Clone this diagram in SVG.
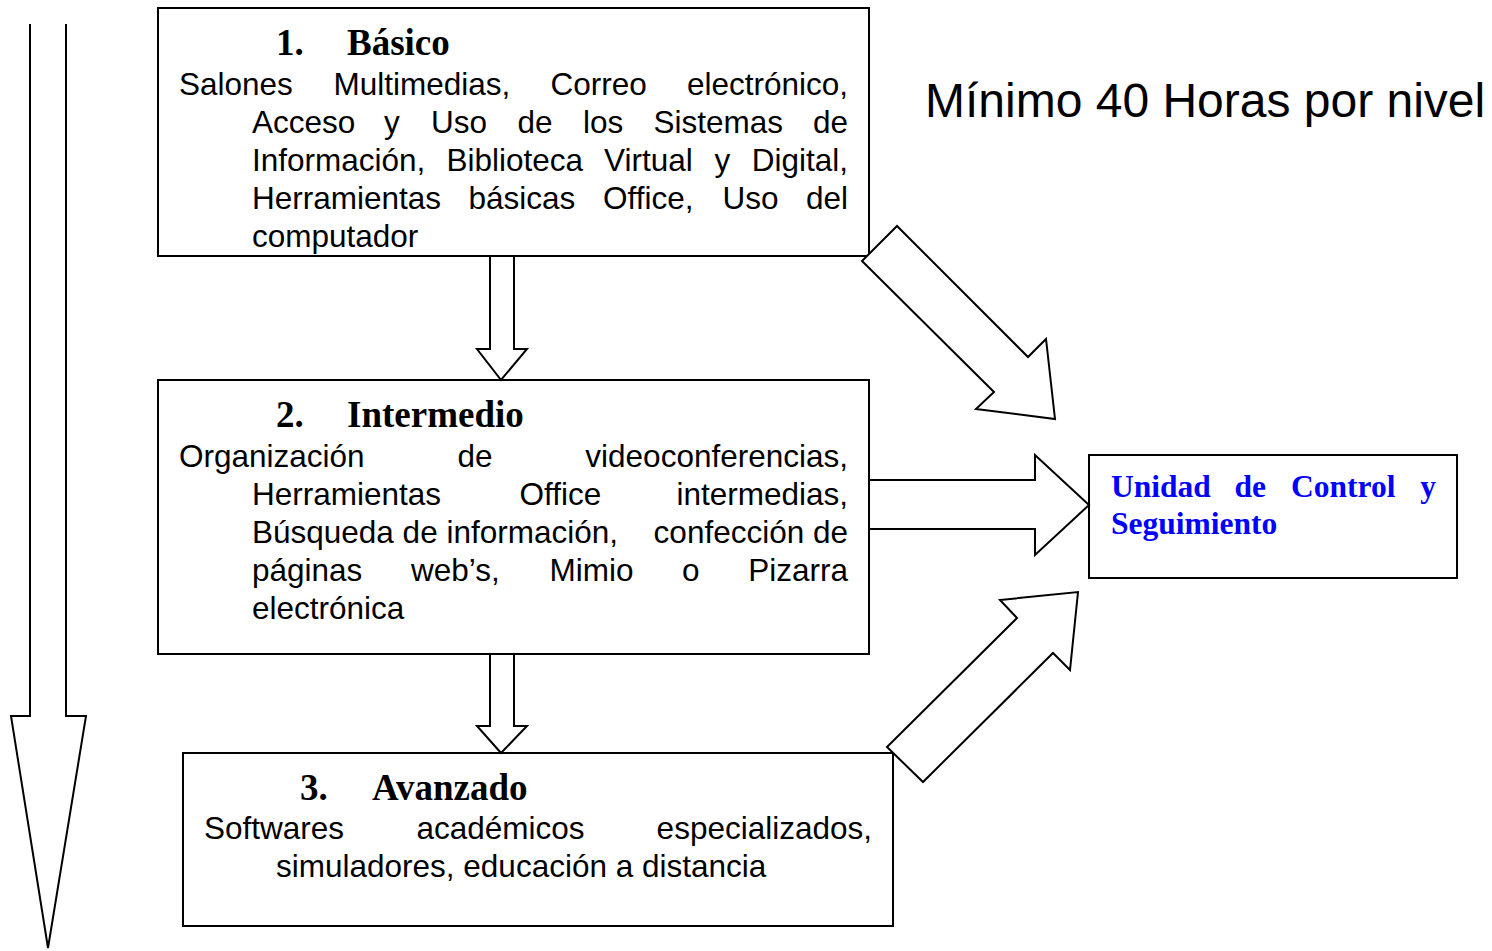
<svg xmlns="http://www.w3.org/2000/svg" width="1492" height="951" viewBox="0 0 1492 951">
<style>
.box{fill:#fff;stroke:#000;stroke-width:2}
.arr{fill:#fff;stroke:#000;stroke-width:2;stroke-linejoin:miter}
.t{font-family:"Liberation Serif","Times New Roman",serif;font-weight:bold;font-size:37px;fill:#000}
.b{font-family:"Liberation Sans",Arial,sans-serif;font-size:31.5px;fill:#000}
.u{font-family:"Liberation Serif","Times New Roman",serif;font-weight:bold;font-size:31.5px;fill:#0000ff}
.big{font-family:"Liberation Sans",Arial,sans-serif;font-size:48px;fill:#000}
</style>
<rect width="1492" height="951" fill="#fff"/>

<g id="progress-arrow">
<path class="arr" fill="none" d="M30,24 V716 H11 L48,948 L86,716 H66 V24"/>
</g>

<g id="node-basico">
<rect class="box" x="158" y="8" width="711" height="248"/>
<text class="t" y="55"><tspan x="276">1.</tspan><tspan x="347">Básico</tspan></text>
<text class="b" y="95"><tspan x="179">Salones</tspan><tspan x="333.5">Multimedias,</tspan><tspan x="550.5">Correo</tspan><tspan x="848" text-anchor="end">electrónico,</tspan></text>
<text class="b" y="133"><tspan x="252">Acceso</tspan><tspan x="384">y</tspan><tspan x="431">Uso</tspan><tspan x="517.5">de</tspan><tspan x="583">los</tspan><tspan x="653.5">Sistemas</tspan><tspan x="848" text-anchor="end">de</tspan></text>
<text class="b" y="171"><tspan x="252">Información,</tspan><tspan x="446.5">Biblioteca</tspan><tspan x="604">Virtual</tspan><tspan x="714.5">y</tspan><tspan x="848" text-anchor="end">Digital,</tspan></text>
<text class="b" y="209"><tspan x="252">Herramientas</tspan><tspan x="468.5">básicas</tspan><tspan x="603">Office,</tspan><tspan x="722.5">Uso</tspan><tspan x="848" text-anchor="end">del</tspan></text>
<text class="b" x="252" y="247">computador</text>
</g>

<g id="node-intermedio">
<rect class="box" x="158" y="380" width="711" height="274"/>
<text class="t" y="427"><tspan x="276">2.</tspan><tspan x="347">Intermedio</tspan></text>
<text class="b" y="467"><tspan x="179">Organización</tspan><tspan x="457.5">de</tspan><tspan x="848" text-anchor="end">videoconferencias,</tspan></text>
<text class="b" y="505"><tspan x="252">Herramientas</tspan><tspan x="519.5">Office</tspan><tspan x="848" text-anchor="end">intermedias,</tspan></text>
<text class="b" y="543"><tspan x="252">Búsqueda de información,</tspan><tspan x="848" text-anchor="end">confección de</tspan></text>
<text class="b" y="581"><tspan x="252">páginas</tspan><tspan x="411">web’s,</tspan><tspan x="549.5">Mimio</tspan><tspan x="682">o</tspan><tspan x="848" text-anchor="end">Pizarra</tspan></text>
<text class="b" x="252" y="619">electrónica</text>
</g>

<g id="node-avanzado">
<rect class="box" x="183" y="753" width="710" height="173"/>
<text class="t" y="800"><tspan x="300">3.</tspan><tspan x="372">Avanzado</tspan></text>
<text class="b" y="839"><tspan x="204">Softwares</tspan><tspan x="416.5">académicos</tspan><tspan x="872" text-anchor="end">especializados,</tspan></text>
<text class="b" x="276" y="877">simuladores, educación a distancia</text>
</g>

<g id="node-unidad">
<rect class="box" x="1089" y="455" width="368" height="123"/>
<text class="u" y="497"><tspan x="1111">Unidad</tspan><tspan x="1234.5">de</tspan><tspan x="1291">Control</tspan><tspan x="1436" text-anchor="end">y</tspan></text>
<text class="u" x="1111" y="534">Seguimiento</text>
</g>

<g id="label-minimo">
<text class="big" x="925" y="117">Mínimo 40 Horas por nivel</text>
</g>

<g id="connectors">
<polygon class="arr" points="490,256 490,349 477,349 501,380 527,349 514,349 514,256"/>
<polygon class="arr" points="490,654 490,726 477,726 501,753 527,726 514,726 514,654"/>
<polygon class="arr" points="869,480 1035,480 1035,455 1089,505 1035,555 1035,529 869,529"/>
<polygon class="arr" points="897,226 862,261 994,392 976,409 1055,419 1046,339 1028,357"/>
<polygon class="arr" points="887,747 1017,618 1000,600 1078,592 1070,670 1053,653 923,782"/>
</g>
</svg>
